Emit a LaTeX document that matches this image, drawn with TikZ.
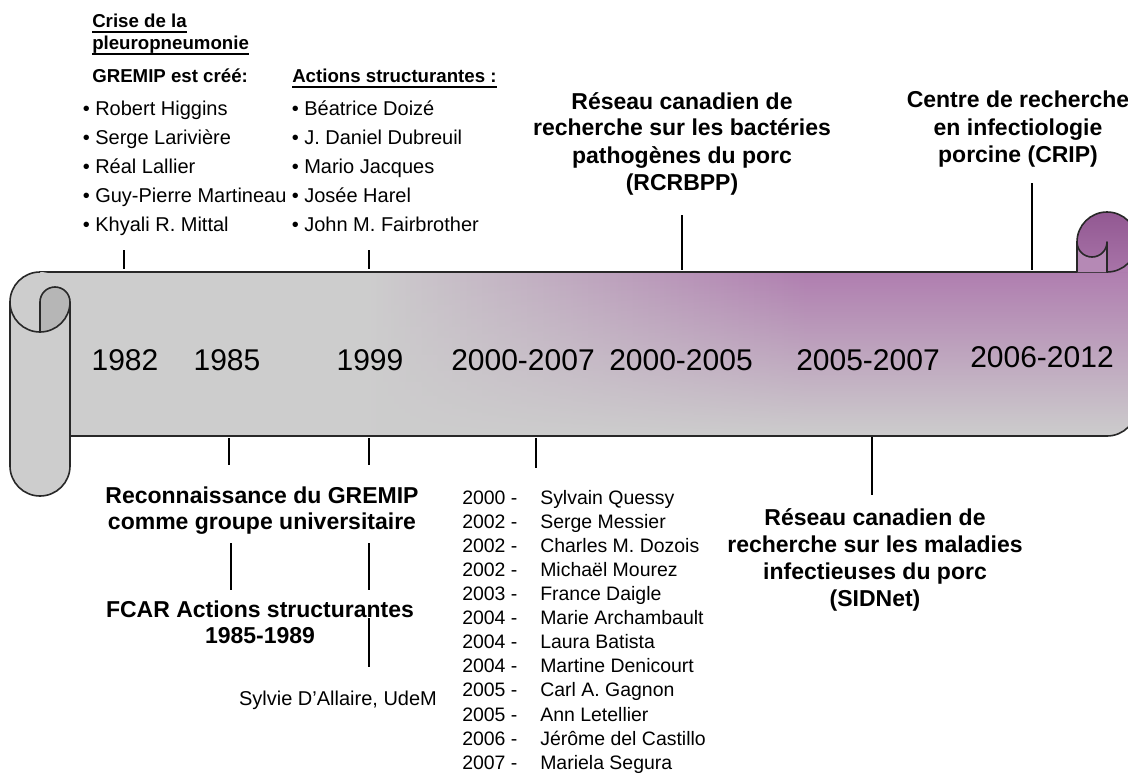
\documentclass[tikz,border=0pt]{standalone}
\usepackage{fontspec}
\setmainfont{Liberation Sans}
\usetikzlibrary{fadings}
\definecolor{scgray}{RGB}{205,205,205}
\definecolor{scpurple}{RGB}{176,126,176}
\definecolor{rolltop}{RGB}{146,88,146}
\definecolor{rollbot}{RGB}{168,116,168}
\definecolor{curlgray}{RGB}{182,182,182}
\definecolor{edgecol}{RGB}{40,40,40}
\pgfdeclarehorizontalshading{bandshade}{100bp}{color(0bp)=(scgray); color(40bp)=(scgray); color(60bp)=(scpurple); color(100bp)=(scpurple)}
\tikzfading[name=bandfade, top color=transparent!0, middle color=transparent!50, bottom color=transparent!100]
\begin{document}
\begin{tikzpicture}[x=0.75pt,y=-0.75pt,
  outl/.style={draw=edgecol, line width=1.2pt, line join=round},
  tickln/.style={draw=black, line width=1.3pt},
  uline/.style={draw=black, line width=1pt},
  yearlbl/.style={font=\fontsize{22.5}{27}\selectfont, anchor=base, inner sep=0pt},
  hdr/.style={font=\fontsize{14}{17}\selectfont\bfseries, anchor=base west, inner sep=0pt},
  bul/.style={font=\fontsize{15}{18}\selectfont, anchor=base west, inner sep=0pt},
  evt/.style={font=\fontsize{17.25}{20}\selectfont\bfseries, anchor=base, inner sep=0pt},
  lst/.style={font=\fontsize{14.6}{17}\selectfont, anchor=base west, inner sep=0pt},
  smalltxt/.style={font=\fontsize{15}{18}\selectfont, anchor=base, inner sep=0pt}]
\useasboundingbox (0,0) rectangle (1128,774);
\fill[white] (0,0) rectangle (1128,774);

% ---- band ----
\fill[scgray] (40,272) -- (1137,272) -- (1137,406) arc[start angle=0,end angle=90,radius=30] -- (40,436) -- cycle;
\shade[shading=bandshade, path fading=bandfade] (40,272) -- (1137,272) -- (1137,406) arc[start angle=0,end angle=90,radius=30] -- (40,436) -- cycle;
\draw[outl] (40,272) -- (1107,272);
\draw[outl] (70,436) -- (1107,436) arc[start angle=90,end angle=0,radius=30] -- (1137,242);

% ---- left roll ----
\fill[scgray] (40,272) arc[start angle=270,end angle=180,radius=30] -- (10,466) arc[start angle=180,end angle=0,radius=30] -- (70,302) arc[start angle=0,end angle=-90,radius=30] -- cycle;
\draw[outl] (40,272) arc[start angle=270,end angle=180,radius=30] -- (10,466) arc[start angle=180,end angle=0,radius=30] -- (70,302);
\draw[outl] (10,302) arc[start angle=180,end angle=90,radius=30];
\filldraw[outl, fill=curlgray] (40,332) -- (40,302) arc[start angle=180,end angle=360,radius=15] arc[start angle=0,end angle=90,radius=30] -- cycle;

% ---- right roll ----
\shade[top color=rolltop, bottom color=rollbot] (1077,272) -- (1077,242) arc[start angle=180,end angle=360,radius=30] -- (1137,272) -- cycle;
\fill[scpurple] (1107,272) arc[start angle=90,end angle=0,radius=30] -- (1137,272) -- cycle;
\fill[rollbot!85!white] (1077,242) arc[start angle=180,end angle=0,radius=15] -- (1107,272) -- (1077,272) -- cycle;
\draw[outl] (1077,272) -- (1077,242) arc[start angle=180,end angle=360,radius=30];
\draw[outl] (1077,242) arc[start angle=180,end angle=0,radius=15] -- (1107,272) arc[start angle=90,end angle=0,radius=30];

% ---- years ----
\node[yearlbl] (y1982) at (125,370) {1982};
\node[yearlbl] (y1985) at (227,370) {1985};
\node[yearlbl] (y1999) at (370,370) {1999};
\node[yearlbl] (y2000a) at (523,370) {2000-2007};
\node[yearlbl] (y2000b) at (681,370) {2000-2005};
\node[yearlbl] (y2005) at (868,370) {2005-2007};
\node[yearlbl] (y2006) at (1042,367) {2006-2012};

% ---- top left block ----
\node[hdr] (crise1) at (92,28) {Crise de la};
\node[hdr] (crise2) at (92,50) {pleuropneumonie};
\draw[uline] ([yshift=-3pt]crise1.base west) -- ([yshift=-3pt]crise1.base east);
\draw[uline] ([yshift=-3pt]crise2.base west) -- ([yshift=-3pt]crise2.base east);
\node[hdr] (gremip) at (92,83) {GREMIP est créé:};
\foreach \lbl [count=\i] in {Robert Higgins,Serge Larivière,Réal Lallier,Guy-Pierre Martineau,Khyali R. Mittal}
  \node[bul] (ga\i) at (82.5,{86+29*\i}) {•\ \lbl};
\node[hdr] (actions) at (292,83) {Actions structurantes :};
\draw[uline] ([yshift=-3pt]actions.base west) -- ([yshift=-3pt]actions.base east);
\foreach \lbl [count=\i] in {Béatrice Doizé,J. Daniel Dubreuil,Mario Jacques,Josée Harel,John M. Fairbrother}
  \node[bul] (as\i) at (291.5,{86+29*\i}) {•\ \lbl};

% ---- top events ----
\foreach \lbl [count=\i] in {Réseau canadien de,recherche sur les bactéries,pathogènes du porc,(RCRBPP)}
  \node[evt] (rc\i) at (682,{82+27*\i}) {\lbl};
\foreach \lbl [count=\i] in {Centre de recherche,en infectiologie,porcine (CRIP)}
  \node[evt] (cr\i) at (1018,{81+27*\i}) {\lbl};

% ---- bottom events ----
\foreach \lbl [count=\i] in {Reconnaissance du GREMIP,comme groupe universitaire}
  \node[evt] (re\i) at (262,{477+26*\i}) {\lbl};
\foreach \lbl [count=\i] in {FCAR Actions structurantes,1985-1989}
  \node[evt] (fc\i) at (260,{591+26*\i}) {\lbl};
\node[smalltxt] (sylvie) at (338,705) {Sylvie D’Allaire, UdeM};
\foreach \lbl [count=\i] in {Réseau canadien de,recherche sur les maladies,infectieuses du porc,(SIDNet)}
  \node[evt] (sd\i) at (875,{498+27*\i}) {\lbl};

% ---- bottom list ----
\foreach \yr/\nm [count=\i] in {2000/Sylvain Quessy,2002/Serge Messier,2002/Charles M. Dozois,2002/Michaël Mourez,2003/France Daigle,2004/Marie Archambault,2004/Laura Batista,2004/Martine Denicourt,2005/Carl A. Gagnon,2005/Ann Letellier,2006/Jérôme del Castillo,2007/Mariela Segura}
  {\node[lst] (ly\i) at (462,{480+24.1*\i}) {\yr\ -};
   \node[lst] (ln\i) at (540,{480+24.1*\i}) {\nm};}

% ---- ticks ----
\coordinate (ta1) at (124,250); \coordinate (tb1) at (124,269);
\coordinate (ta2) at (369,250); \coordinate (tb2) at (369,269);
\coordinate (ta3) at (682,215); \coordinate (tb3) at (682,270);
\coordinate (ta4) at (1032,183); \coordinate (tb4) at (1032,270);
\coordinate (ba1) at (229,438); \coordinate (bb1) at (229,465);
\coordinate (ba2) at (369,438); \coordinate (bb2) at (369,465);
\coordinate (ba3) at (536,438); \coordinate (bb3) at (536,468);
\coordinate (ba4) at (872,437); \coordinate (bb4) at (872,495);
\coordinate (ca1) at (231,543); \coordinate (cb1) at (231,590);
\coordinate (ca2) at (369,543); \coordinate (cb2) at (369,590);
\coordinate (da2) at (369,618); \coordinate (db2) at (369,667);
\foreach \a/\b in {ta1/tb1,ta2/tb2,ta3/tb3,ta4/tb4,ba1/bb1,ba2/bb2,ba3/bb3,ba4/bb4,ca1/cb1,ca2/cb2,da2/db2}
  \draw[tickln] (\a) -- (\b);
\end{tikzpicture}
\end{document}
